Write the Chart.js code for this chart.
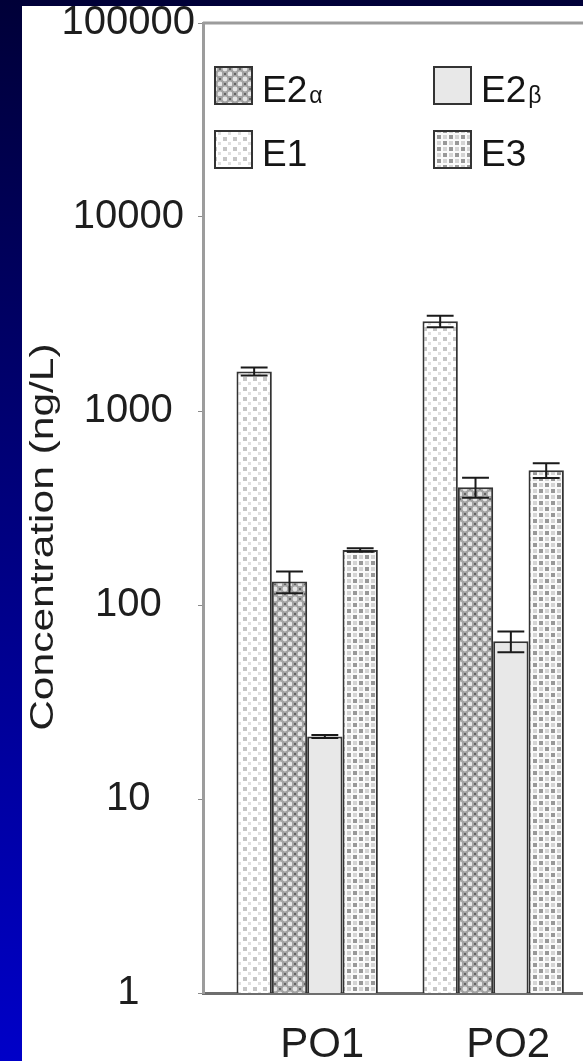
<!DOCTYPE html>
<html>
<head>
<meta charset="utf-8">
<script src="https://cdn.jsdelivr.net/npm/chart.js@4.4.1/dist/chart.umd.min.js"></script>
<style>
  html, body {
    margin: 0;
    padding: 0;
    width: 583px;
    height: 1061px;
    overflow: hidden;
    background: linear-gradient(to bottom, #000038 0%, #0000c8 100%);
  }
  .panel {
    position: absolute;
    left: 22px;
    top: 6px;
    width: 561px;
    height: 1055px;
    background: #fff;
    overflow: hidden;
  }
  .chart-box {
    position: absolute;
    left: 0;
    top: -10px;
    width: 620px;
    height: 1065px;
  }
</style>
</head>
<body>
<div class="panel"><div class="chart-box"><canvas id="conc-chart"></canvas></div></div>
<script>
// data (log axis, ng/L)
const categories = ['PO1', 'PO2'];
const seriesNames = ['E1', 'E2α', 'E2β', 'E3'];
const e1 = [1600, 2900];
const e2a = [132, 405];
const e2b = [21, 65];
const e3 = [192, 495];
const e1Err = [75, 200];
const e2aErr = [17, 48];
const e2bErr = [0.4, 8];
const e3Err = [4, 43];
const yTicks = [1, 10, 100, 1000, 10000, 100000];
const yTitle = 'Concentration (ng/L)';

const seriesValues = [e1, e2a, e2b, e3];
const seriesErrors = [e1Err, e2aErr, e2bErr, e3Err];

const FONT = "'Liberation Sans', Arial, sans-serif";
Chart.defaults.font.family = FONT;

// hatch fills like the old print figure
function makePattern(w, h, paint) {
  const c = document.createElement('canvas');
  c.width = w;
  c.height = h;
  const g = c.getContext('2d');
  paint(g);
  return g.createPattern(c, 'repeat');
}

const fillE1 = makePattern(10, 10, g => {
  g.fillStyle = '#ffffff';
  g.fillRect(0, 0, 10, 10);
  g.fillStyle = '#c6c6c6';
  g.fillRect(1, 1, 4, 4);
  g.fillStyle = '#e0e0e0';
  g.fillRect(6, 6, 3, 3);
});
const fillE2a = makePattern(10, 10, g => {
  g.fillStyle = '#a2a2a2';
  g.fillRect(0, 0, 10, 10);
  g.fillStyle = '#e6e6e6';
  g.beginPath();
  g.arc(3, 3, 2.4, 0, Math.PI * 2);
  g.arc(8, 8, 2.4, 0, Math.PI * 2);
  g.fill();
  g.fillStyle = '#666666';
  g.fillRect(7, 2, 2, 2);
  g.fillRect(2, 7, 2, 2);
});
const fillE2b = '#e8e8e8';
const fillE3 = makePattern(12, 12, g => {
  g.fillStyle = '#fafafa';
  g.fillRect(0, 0, 12, 12);
  g.fillStyle = '#989898';
  g.fillRect(1, 1, 4, 4);
  g.fillRect(7, 7, 4, 4);
  g.fillStyle = '#d4d4d4';
  g.fillRect(7, 1, 4, 4);
  g.fillRect(1, 7, 4, 4);
});
const fills = [fillE1, fillE2a, fillE2b, fillE3];

// draws +/- error whiskers on every bar
const errorBars = {
  id: 'errorBars',
  afterDatasetsDraw(chart) {
    const { ctx } = chart;
    const y = chart.scales.y;
    ctx.save();
    ctx.strokeStyle = '#1a1a1a';
    ctx.lineWidth = 2;
    chart.data.datasets.forEach((ds, i) => {
      chart.getDatasetMeta(i).data.forEach((bar, j) => {
        const v = ds.data[j].y;
        const e = ds.errors[j];
        const top = y.getPixelForValue(v + e);
        const bot = y.getPixelForValue(Math.max(v - e, 1));
        const hw = bar.width * 0.38;
        ctx.beginPath();
        ctx.moveTo(bar.x, top);
        ctx.lineTo(bar.x, bot);
        ctx.moveTo(bar.x - hw, top);
        ctx.lineTo(bar.x + hw, top);
        ctx.moveTo(bar.x - hw, bot);
        ctx.lineTo(bar.x + hw, bot);
        ctx.stroke();
      });
    });
    ctx.restore();
  }
};

// legend sits inside the plot, two columns: E2α E2β / E1 E3
const legendOrder = [1, 2, 0, 3];
const insideLegend = {
  id: 'insideLegend',
  afterDraw(chart) {
    const { ctx, chartArea } = chart;
    const colX = [12, 231];
    const rowY = [44, 108];
    const box = 37;
    ctx.save();
    legendOrder.forEach((di, k) => {
      const ds = chart.data.datasets[di];
      const bx = chartArea.left + colX[k % 2];
      const by = chartArea.top + rowY[Math.floor(k / 2)];
      ctx.fillStyle = ds.backgroundColor;
      ctx.fillRect(bx, by, box, box);
      ctx.strokeStyle = '#333333';
      ctx.lineWidth = 2;
      ctx.strokeRect(bx, by, box, box);

      const label = ds.label;
      const greek = /[α-ω]$/.test(label) ? label.slice(-1) : '';
      const main = greek ? label.slice(0, -1) : label;
      ctx.fillStyle = '#141414';
      ctx.textBaseline = 'alphabetic';
      ctx.textAlign = 'left';
      ctx.font = '37px ' + FONT;
      ctx.fillText(main, bx + 47, by + 35);
      if (greek) {
        const w = ctx.measureText(main).width;
        ctx.font = '23px ' + FONT;
        ctx.fillText(greek, bx + 49 + w, by + 36);
      }
    });
    ctx.restore();
  }
};

// frame line along the top + rotated y title
const frameAndTitle = {
  id: 'frameAndTitle',
  beforeDatasetsDraw(chart) {
    const { ctx, chartArea } = chart;
    ctx.save();
    ctx.strokeStyle = '#9c9c9c';
    ctx.lineWidth = 3;
    ctx.beginPath();
    ctx.moveTo(chartArea.left, chartArea.top);
    ctx.lineTo(chartArea.right, chartArea.top);
    ctx.stroke();
    ctx.restore();
  },
  afterDraw(chart) {
    const { ctx, chartArea } = chart;
    const ys = chart.scales.y;
    ctx.save();
    ctx.translate(ys.left + 22, chartArea.top + (chartArea.bottom - chartArea.top) * 0.53);
    ctx.rotate(-Math.PI / 2);
    ctx.scale(1.25, 1);
    ctx.font = '34px ' + FONT;
    ctx.fillStyle = '#1e1e1e';
    ctx.textAlign = 'center';
    ctx.textBaseline = 'middle';
    ctx.fillText(yTitle, 0, 0);
    ctx.restore();
  }
};

new Chart(document.getElementById('conc-chart'), {
  type: 'bar',
  data: {
    datasets: seriesNames.map((name, i) => ({
      label: name,
      data: seriesValues[i].map((v, j) => ({ x: j + 1, y: v })),
      errors: seriesErrors[i],
      backgroundColor: fills[i],
      borderColor: '#333333',
      borderWidth: 2,
      categoryPercentage: 0.76,
      barPercentage: 1,
    })),
  },
  options: {
    responsive: true,
    maintainAspectRatio: false,
    animation: false,
    layout: { padding: 0 },
    plugins: {
      legend: { display: false },
      tooltip: { enabled: false },
    },
    scales: {
      x: {
        type: 'linear',
        min: 0.44,
        max: 2.8,
        offset: false,
        grid: { display: false, drawTicks: false },
        border: { color: '#6e6e6e', width: 3 },
        ticks: {
          stepSize: 1,
          includeBounds: false,
          autoSkip: false,
          maxRotation: 0,
          padding: 27,
          labelOffset: 15,
          color: '#1e1e1e',
          font: { size: 42 },
          callback: v => categories[v - 1] || '',
        },
        afterFit: s => { s.height = 68; },
      },
      y: {
        type: 'logarithmic',
        min: 1,
        max: 100000,
        grid: {
          drawOnChartArea: false,
          drawTicks: true,
          tickLength: 5,
          color: c => (c.tick && yTicks.includes(c.tick.value)) ? '#8a8a8a' : 'rgba(0,0,0,0)',
        },
        border: { color: '#9c9c9c', width: 3 },
        ticks: {
          autoSkip: false,
          padding: 3,
          crossAlign: 'center',
          color: '#1e1e1e',
          font: { size: 40 },
          callback: v => {
            const t = yTicks.find(k => Math.abs(k - v) < k * 1e-6);
            return t ? String(t) : '';
          },
        },
        afterFit: s => { s.width = 181; },
      },
    },
  },
  plugins: [errorBars, insideLegend, frameAndTitle],
});
</script>
</body>
</html>
